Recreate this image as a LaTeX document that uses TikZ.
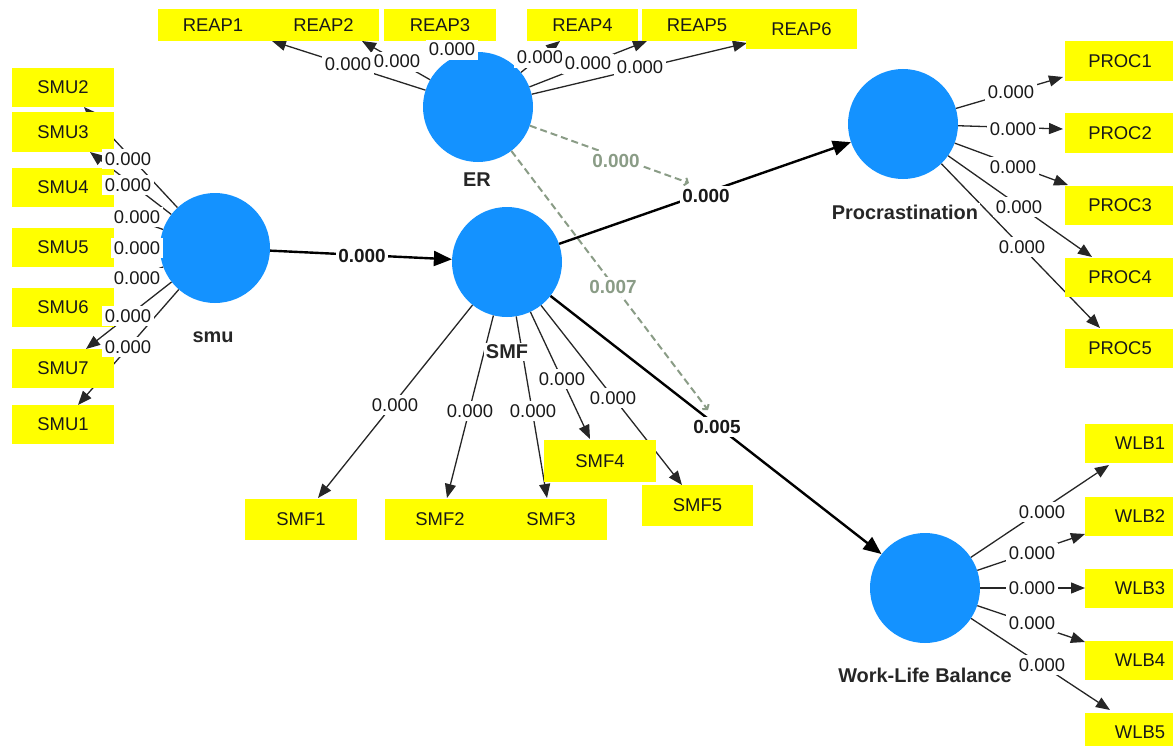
\documentclass[tikz,border=0pt]{standalone}
\usepackage{fontspec}
\setmainfont{Liberation Sans}
\usetikzlibrary{arrows.meta}
\definecolor{lvblue}{RGB}{20,146,255}
\definecolor{indyellow}{RGB}{255,255,0}
\definecolor{modgray}{RGB}{138,156,134}
\begin{document}
\begin{tikzpicture}[x=1bp,y=-1bp,
  lv/.style={circle,fill=lvblue,minimum size=110bp,inner sep=0pt},
  lvname/.style={fill=white,inner sep=2bp,font=\fontsize{20}{22}\selectfont\bfseries,text=black!85},
  mv/.style={fill=indyellow,minimum width=111bp,minimum height=39bp,inner sep=0pt,font=\fontsize{18.5}{20}\selectfont,text=black!90},
  ldg/.style={draw=black!85,line width=1.3bp,-{Triangle[length=14bp,width=11bp]}},
  struct/.style={draw=black,line width=2.4bp,-{Triangle[length=18bp,width=15bp]}},
  modline/.style={draw=modgray,line width=2bp,dash pattern=on 7bp off 4bp,-{Straight Barb[length=3bp,width=8bp]}},
  val/.style={fill=white,inner xsep=2.5bp,inner ysep=3bp,font=\fontsize{18.5}{20}\selectfont,text height=13bp,text depth=1bp,text=black!90},
  bval/.style={val,font=\fontsize{19}{21}\selectfont\bfseries},
  gval/.style={bval,text=modgray}
]
\useasboundingbox (0,0) rectangle (1173,746);
\clip (0,0) rectangle (1173,746);

% latent variables
\node[lv] (smu) at (215,248) {};
\node[lv] (ER) at (478,107) {};
\node[lv] (SMF) at (507,262) {};
\node[lv] (PROC) at (903,124) {};
\node[lv] (WLB) at (925,588) {};

% arrow tips of the loadings
\coordinate (tR1) at (272,41);
\coordinate (tR2) at (362,41);
\coordinate (tR3) at (451,41);
\coordinate (tR4) at (560,41);
\coordinate (tR5) at (647,41);
\coordinate (tR6) at (747,43);
\coordinate (tS2) at (84,107);
\coordinate (tS3) at (90,152);
\coordinate (tS4) at (114,212);
\coordinate (tS5) at (114,248);
\coordinate (tS6) at (114,285);
\coordinate (tS7) at (86,349);
\coordinate (tS1) at (78,405);
\coordinate (tF1) at (318,498);
\coordinate (tF2) at (447,498);
\coordinate (tF3) at (547,498);
\coordinate (tF4) at (590,439);
\coordinate (tF5) at (682,485);
\coordinate (tP1) at (1063,77);
\coordinate (tP2) at (1063,129);
\coordinate (tP3) at (1068,185);
\coordinate (tP4) at (1092,257);
\coordinate (tP5) at (1100,328);
\coordinate (tW1) at (1109,465);
\coordinate (tW2) at (1085,534);
\coordinate (tW3) at (1085,588);
\coordinate (tW4) at (1085,642);
\coordinate (tW5) at (1110,710);
\coordinate (m1) at (689,183);
\coordinate (m2) at (708,410);

% loadings
\draw[ldg] (ER) -- (tR1);
\draw[ldg] (ER) -- (tR2);
\draw[ldg] (ER) -- (tR3);
\draw[ldg] (ER) -- (tR4);
\draw[ldg] (ER) -- (tR5);
\draw[ldg] (ER) -- (tR6);
\draw[ldg] (smu) -- (tS2);
\draw[ldg] (smu) -- (tS3);
\draw[ldg] (smu) -- (tS4);
\draw[ldg] (smu) -- (tS5);
\draw[ldg] (smu) -- (tS6);
\draw[ldg] (smu) -- (tS7);
\draw[ldg] (smu) -- (tS1);
\draw[ldg] (SMF) -- (tF1);
\draw[ldg] (SMF) -- (tF2);
\draw[ldg] (SMF) -- (tF3);
\draw[ldg] (SMF) -- (tF4);
\draw[ldg] (SMF) -- (tF5);
\draw[ldg] (PROC) -- (tP1);
\draw[ldg] (PROC) -- (tP2);
\draw[ldg] (PROC) -- (tP3);
\draw[ldg] (PROC) -- (tP4);
\draw[ldg] (PROC) -- (tP5);
\draw[ldg] (WLB) -- (tW1);
\draw[ldg] (WLB) -- (tW2);
\draw[ldg] (WLB) -- (tW3);
\draw[ldg] (WLB) -- (tW4);
\draw[ldg] (WLB) -- (tW5);

% moderating effects
\draw[modline] (ER) -- (m1);
\draw[modline] (ER) -- (m2);

% structural paths
\draw[struct] (smu) -- (SMF);
\draw[struct] (SMF) -- (PROC);
\draw[struct] (SMF) -- (WLB);

% indicators
\node[mv,minimum height=32bp] (REAP1) at (213,25) {REAP1};
\node[mv,minimum height=32bp] (REAP2) at (323.5,25) {REAP2};
\node[mv,minimum height=32bp,minimum width=112bp] (REAP3) at (440,25) {REAP3};
\node[mv,minimum height=32bp] (REAP4) at (582.5,25) {REAP4};
\node[mv,minimum height=32bp,minimum width=110bp] (REAP5) at (697,25) {REAP5};
\node[mv,minimum height=40bp] (REAP6) at (801.5,29) {REAP6};
\node[mv,minimum width=102bp] (SMU2) at (63,87.5) {SMU2};
\node[mv,minimum width=102bp] (SMU3) at (63,132) {SMU3};
\node[mv,minimum width=102bp] (SMU4) at (63,187.5) {SMU4};
\node[mv,minimum width=102bp] (SMU5) at (63,247.5) {SMU5};
\node[mv,minimum width=102bp] (SMU6) at (63,307.5) {SMU6};
\node[mv,minimum width=102bp] (SMU7) at (63,368.5) {SMU7};
\node[mv,minimum width=102bp] (SMU1) at (63,424.5) {SMU1};
\node[mv,minimum width=112bp,minimum height=41bp] (SMF1) at (301,519.5) {SMF1};
\node[mv,minimum height=41bp] (SMF2) at (440,519.5) {SMF2};
\node[mv,minimum height=41bp] (SMF3) at (551,519.5) {SMF3};
\node[mv,minimum width=112bp,minimum height=42bp] (SMF4) at (600,461) {SMF4};
\node[mv,minimum height=41bp] (SMF5) at (697.5,505.5) {SMF5};
\node[mv,minimum width=110bp] (PROC1) at (1120,61) {PROC1};
\node[mv,minimum width=110bp] (PROC2) at (1120,133) {PROC2};
\node[mv,minimum width=110bp] (PROC3) at (1120,205) {PROC3};
\node[mv,minimum width=110bp] (PROC4) at (1120,277.5) {PROC4};
\node[mv,minimum width=110bp] (PROC5) at (1120,348.5) {PROC5};
\node[mv,minimum width=110bp] (WLB1) at (1140,443.5) {WLB1};
\node[mv,minimum width=110bp] (WLB2) at (1140,516) {WLB2};
\node[mv,minimum width=110bp] (WLB3) at (1140,588) {WLB3};
\node[mv,minimum width=110bp] (WLB4) at (1140,660) {WLB4};
\node[mv,minimum width=110bp] (WLB5) at (1140,732) {WLB5};

% latent names
\node[lvname] (nsmu) at (213,337) {smu};
\node[lvname] (nER) at (477,180) {ER};
\node[lvname] (nSMF) at (507,352) {SMF};
\node[lvname] (nPROC) at (905,212) {Procrastination};
\node[lvname] (nWLB) at (925,675) {Work-Life Balance};

% loading values
\node[val] (vR2) at (397,62) {0.000};
\node[val] (vR1) at (348,65) {0.000};
\node[val] (vR3) at (452,50) {0.000};
\node[val] (vR4) at (540,58) {0.000};
\node[val] (vR5) at (588,64) {0.000};
\node[val] (vR6) at (640,68) {0.000};
\node[val] (vS2) at (128,159) {0.000};
\node[val] (vS3) at (128,185) {0.000};
\node[val] (vS4) at (137,217) {0.000};
\node[val] (vS5) at (137,248) {0.000};
\node[val] (vS6) at (137,278) {0.000};
\node[val] (vS7) at (128,316) {0.000};
\node[val] (vS1) at (128,347) {0.000};
\node[val] (vF1) at (395,405) {0.000};
\node[val] (vF2) at (470,411) {0.000};
\node[val] (vF3) at (533,411) {0.000};
\node[val] (vF4) at (562,379) {0.000};
\node[val] (vF5) at (613,398) {0.000};
\node[val] (vP1) at (1011,93) {0.000};
\node[val] (vP2) at (1013,129) {0.000};
\node[val] (vP3) at (1013,167) {0.000};
\node[val] (vP4) at (1019,207) {0.000};
\node[val] (vP5) at (1022,247) {0.000};
\node[val] (vW1) at (1042,512) {0.000};
\node[val] (vW2) at (1032,553) {0.000};
\node[val] (vW3) at (1032,588) {0.000};
\node[val] (vW4) at (1032,623) {0.000};
\node[val] (vW5) at (1042,665) {0.000};

% path values
\node[bval] (vA) at (362,256) {0.000};
\node[bval] (vB) at (706,196) {0.000};
\node[bval] (vC) at (717,427) {0.005};
\node[gval] (vD) at (616,161) {0.000};
\node[gval] (vE) at (613,287) {0.007};
\end{tikzpicture}
\end{document}
